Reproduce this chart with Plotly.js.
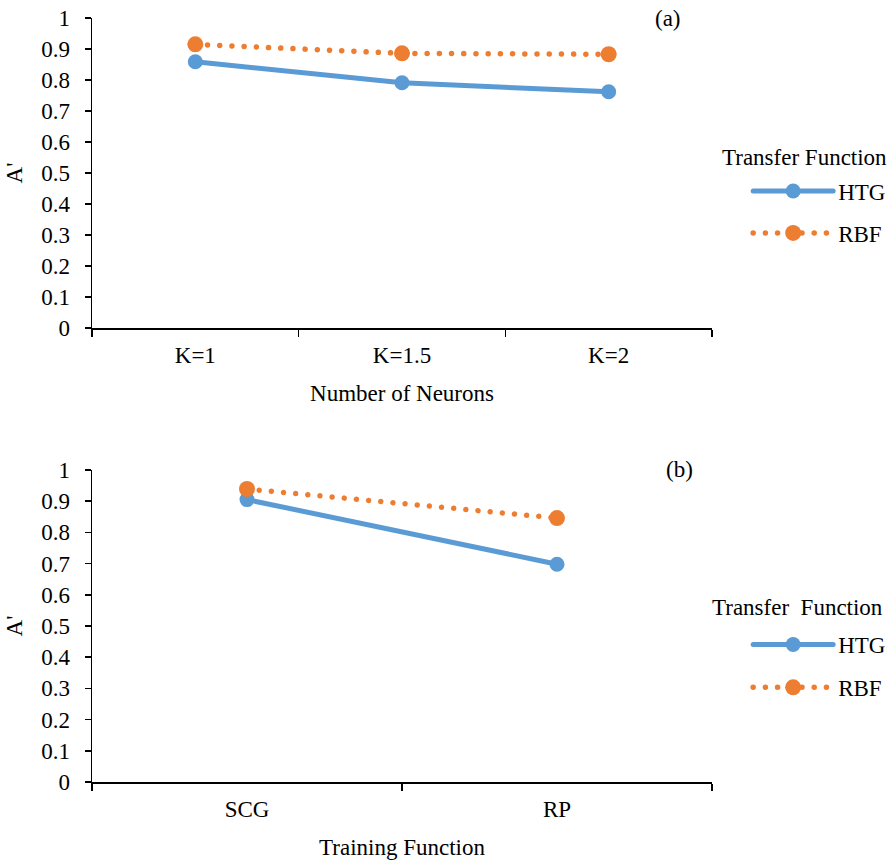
<!DOCTYPE html>
<html>
<head>
<meta charset="utf-8">
<script src="https://cdn.plot.ly/plotly-3.0.1.min.js"></script>
<style>
html,body{margin:0;padding:0;background:#fff;}
#chart{width:896px;height:861px;}
#chart text { font-family: "Liberation Serif", serif !important; }
#chart .js-line, #chart .legendlines path { stroke-linecap: round; }
</style>
</head>
<body>
<div id="chart"></div>
<script>
// Panel (a)
const neuronCats = ["K=1", "K=1.5", "K=2"];
const htgNeurons = [0.859, 0.791, 0.762];
const rbfNeurons = [0.915, 0.886, 0.883];
// Panel (b)
const trainCats = ["SCG", "RP"];
const htgTrain = [0.905, 0.698];
const rbfTrain = [0.939, 0.846];
const yTicks = [0, 0.1, 0.2, 0.3, 0.4, 0.5, 0.6, 0.7, 0.8, 0.9, 1];

const FONT = "Liberation Serif";
const FS = 23;
const F = {family: FONT, size: FS, color: "#000"};
const blue = "#5B9BD5", orange = "#ED7D31";

function htg(x, y, xa, ya, leg) {
  return {x: x, y: y, xaxis: xa, yaxis: ya, name: "HTG", type: "scatter", mode: "lines+markers",
    line: {color: blue, width: 5}, marker: {color: blue, size: 15}, legend: leg, legendgroup: "h" + leg};
}
function rbf(x, y, xa, ya, leg) {
  return {x: x, y: y, xaxis: xa, yaxis: ya, name: "RBF", type: "scatter", mode: "lines+markers",
    line: {color: orange, width: 5.5, dash: "0.01px,12.2px"}, marker: {color: orange, size: 16}, legend: leg, legendgroup: "r" + leg};
}

const data = [
  htg(neuronCats, htgNeurons, "x", "y", "legend"),
  rbf(neuronCats, rbfNeurons, "x", "y", "legend"),
  htg(trainCats, htgTrain, "x2", "y2", "legend2"),
  rbf(trainCats, rbfTrain, "x2", "y2", "legend2")
];

function xax(title, n, anchor) {
  return {anchor: anchor, type: "category", range: [-0.5, n - 0.5], tickson: "boundaries",
    showline: true, linecolor: "#000", linewidth: 1.5, ticks: "outside", ticklen: 7, tickcolor: "#000", tickwidth: 1.5,
    showgrid: false, zeroline: false, tickfont: F, ticklabelstandoff: 6,
    title: {text: title, font: F, standoff: 18}, fixedrange: true};
}
function yax(domain, anchor) {
  return {anchor: anchor, domain: domain, range: [0, 1], tickvals: yTicks, ticktext: yTicks.map(String),
    showline: true, linecolor: "#000", linewidth: 1.5, ticks: "outside", ticklen: 6, tickcolor: "#000", tickwidth: 1.5,
    showgrid: false, zeroline: false, tickfont: F, ticklabelstandoff: 10,
    title: {text: "A'", font: F, standoff: 12}, fixedrange: true};
}
function leg(y, gap) {
  return {xref: "container", yref: "container", x: 0.835, xanchor: "left", y: y, yanchor: "top",
    font: F, itemwidth: 80, tracegroupgap: gap, bgcolor: "rgba(0,0,0,0)"};
}

const layout = {
  width: 896, height: 861,
  font: F,
  margin: {l: 92, r: 184, t: 18, b: 79},
  paper_bgcolor: "#fff", plot_bgcolor: "#fff",
  showlegend: true,
  xaxis: xax("Number of Neurons", neuronCats.length, "y"),
  yaxis: yax([0.5942, 1], "x"),
  xaxis2: xax("Training Function", trainCats.length, "y2"),
  yaxis2: yax([0, 0.4084], "x2"),
  legend: leg(0.803, 9),
  legend2: leg(0.2764, 10),
  annotations: [
    {text: "(a)", xref: "paper", yref: "paper", x: 0.929, y: 1.0, xanchor: "center", yanchor: "middle", showarrow: false, font: F},
    {text: "(b)", xref: "paper", yref: "paper", x: 0.948, y: 0.4084, xanchor: "center", yanchor: "middle", showarrow: false, font: F},
    {text: "Transfer Function", xref: "paper", yref: "paper", x: 1.0129, y: 0.818, xanchor: "left", yanchor: "middle", showarrow: false, font: F},
    {text: "Transfer  Function", xref: "paper", yref: "paper", x: 0.997, y: 0.229, xanchor: "left", yanchor: "middle", showarrow: false, font: F}
  ]
};

Plotly.newPlot("chart", data, layout, {displayModeBar: false, staticPlot: true});
</script>
</body>
</html>
